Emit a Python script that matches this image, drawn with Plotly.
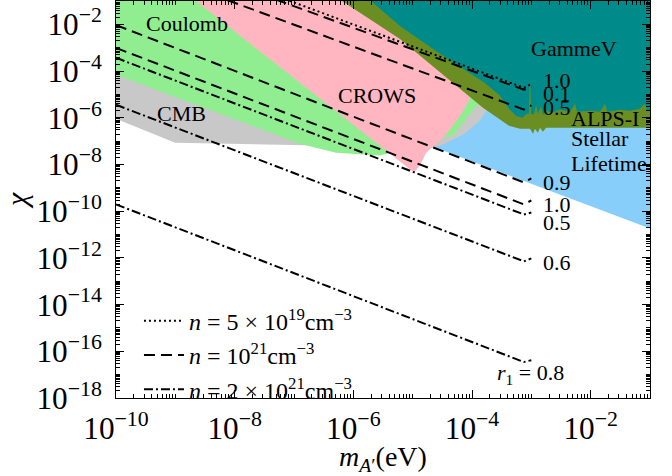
import plotly.graph_objects as go

# ---------------- data ----------------
# dark-photon mass grid for the projected sensitivity curves (eV)
line_m = [1e-10, 7.5e-4, 1e-3]

# sensitivity curves chi(m)
chi_n5e19_r10 = [58.9, 1.91e-5, 2.82e-5]       # dotted, r1 = 1.0
chi_n1e21_r01 = [35.5, 1.58e-5, 2.14e-5]       # dashed, r1 = 0.1
chi_n1e21_r05 = [6.3, 2.24e-6, 3.39e-6]        # dashed, r1 = 0.5
chi_n1e21_r09 = [9.3e-3, 1.70e-9, 2.51e-9]     # dashed, r1 = 0.9
chi_n1e21_r10 = [9.8e-4, 1.95e-10, 2.88e-10]   # dashed, r1 = 1.0
chi_n2e21_r05 = [3.7e-4, 7.2e-11, 8.7e-11]     # dash-dot, r1 = 0.5
chi_n2e21_r06 = [3.6e-6, 7.1e-13, 9.5e-13]     # dash-dot, r1 = 0.6
chi_n2e21_r08 = [1.95e-10, 3.47e-17, 4.17e-17] # dash-dot, r1 = 0.8

# excluded regions (boundary polygons: mass in eV, chi)
stellar_m = [2.2e-5, 0.148, 0.148, 2.96e-4, 9.3e-5, 4.3e-5, 2.47e-5]
stellar_chi = [5.8e-8, 1.23e-11, 5.3e-6, 3.83e-5, 2.0e-6, 2.8e-7, 8.6e-8]

cmb_m = [8e-11, 8e-11, 9.9e-10, 2.2e-5, 3.5e-5, 7.6e-5, 1.36e-4, 2.0e-4, 2.75e-4, 2.96e-4]
cmb_chi = [8.3e-5, 1.15e-6, 8.6e-8, 5.25e-8, 7.8e-8, 2.1e-7, 7.5e-7, 3.3e-6, 1.74e-5, 1.95e-3]

coulomb_m = [8e-11, 2.96e-4, 2.44e-4, 1.53e-4, 1.12e-4, 7.6e-5, 4.8e-5, 2.38e-5,
             6.1e-6, 2.8e-6, 5.1e-7, 1.26e-7, 8e-11]
coulomb_chi = [0.3, 0.3, 2.34e-5, 5.3e-6, 2.7e-6, 7.5e-7, 1.71e-7, 1.27e-7,
               3.9e-8, 2.4e-8, 3.2e-8, 7.8e-8, 8.6e-5]

crows_m = [1.29e-9, 1.05e-5, 1.33e-5, 1.68e-5, 2.2e-5, 3.8e-5, 6.3e-5, 9.3e-5, 1.36e-4, 9.3e-5]
crows_chi = [0.3, 4.5e-9, 8.95e-9, 3.2e-8, 5.8e-8, 2.1e-7, 1.22e-6, 6.5e-6, 2.7e-4, 0.3]

alps_m = [3.33e-7, 6.1e-6, 4.3e-5, 1.53e-4, 4.2e-4, 6.44e-4, 9.5e-4, 1.07e-3, 1.15e-3,
          1.29e-3, 1.40e-3, 1.57e-3, 1.77e-3, 0.148, 0.148]
alps_chi = [0.3, 2.38e-3, 3.8e-5, 2.7e-6, 4.6e-7, 3.4e-7, 3.4e-7, 2.08e-7, 3.4e-7,
            2.3e-7, 3.76e-7, 2.54e-7, 3.76e-7, 3.76e-7, 0.3]

gammev_m = [1.2e-6, 6.1e-6, 2.47e-5, 1.72e-4, 2.96e-4, 4.2e-4, 5.5e-4, 7.0e-4, 8.45e-4,
            9.14e-4, 9.35e-4, 9.66e-4, 9.89e-4, 1.11e-3, 1.20e-3, 1.29e-3, 1.46e-3,
            1.57e-3, 1.84e-3, 2.23e-3, 3.04e-3, 4.49e-3, 5.45e-3, 5.89e-3, 9.75e-3,
            1.44e-2, 1.75e-2, 1.89e-2, 3.13e-2, 4.6e-2, 6.79e-2, 8.24e-2, 8.89e-2,
            0.148, 0.148]
gammev_chi = [0.3, 8.55e-3, 7.3e-4, 2.84e-5, 8.7e-6, 2.44e-6, 1.22e-6, 1.0e-6, 1.49e-6,
              1.49e-6, 2.34e-5, 2.34e-5, 1.49e-6, 1.35e-6, 3.61e-6, 1.49e-6, 2.96e-6,
              1.35e-6, 2.0e-6, 1.64e-6, 2.21e-6, 1.81e-6, 3.98e-6, 1.81e-6, 2.0e-6,
              1.81e-6, 3.98e-6, 1.81e-6, 2.21e-6, 2.0e-6, 2.44e-6, 3.98e-6, 2.0e-6,
              2.0e-6, 0.3]

legend_names = [
    "<i>n</i> = 5 × 10<sup>19</sup>cm<sup>−3</sup>",
    "<i>n</i> = 10<sup>21</sup>cm<sup>−3</sup>",
    "<i>n</i> = 2 × 10<sup>21</sup>cm<sup>−3</sup>",
]

# ---------------- figure ----------------
FONT = "Liberation Serif"
fig = go.Figure()

regions = [
    (stellar_m, stellar_chi, "#87CEFA"),
    (cmb_m, cmb_chi, "#C8C8C8"),
    (coulomb_m, coulomb_chi, "#90EE90"),
    (crows_m, crows_chi, "#FFB6C1"),
    (alps_m, alps_chi, "#6B8E23"),
    (gammev_m, gammev_chi, "#008B8B"),
]
for xm, yc, col in regions:
    fig.add_trace(go.Scatter(x=xm, y=yc, mode="lines", fill="toself", fillcolor=col,
                             line=dict(width=0, color=col), showlegend=False,
                             hoverinfo="skip"))

DOT = "2px,3px"
DASH = "11px,6px"
DASHDOT = "9px,3px,2px,3px"

curves = [
    (chi_n5e19_r10, DOT, legend_names[0], True),
    (chi_n1e21_r01, DASH, legend_names[1], True),
    (chi_n1e21_r05, DASH, None, False),
    (chi_n1e21_r09, DASH, None, False),
    (chi_n1e21_r10, DASH, None, False),
    (chi_n2e21_r05, DASHDOT, legend_names[2], True),
    (chi_n2e21_r06, DASHDOT, None, False),
    (chi_n2e21_r08, DASHDOT, None, False),
]
for yc, dash, name, show in curves:
    fig.add_trace(go.Scatter(x=line_m, y=yc, mode="lines", name=name or "",
                             showlegend=show,
                             line=dict(color="black", width=2, dash=dash)))

def ann(text, x, y, size=22, xanchor="center"):
    fig.add_annotation(text=text, x=x, y=y, xref="x", yref="y", showarrow=False,
                       xanchor=xanchor, yanchor="middle",
                       font=dict(family=FONT, size=size, color="black"))

# region labels (positions in log10 units)
ann("Coulomb", -8.80, -1.98)
ann("CMB", -8.89, -5.83)
ann("CROWS", -5.60, -5.06)
ann("GammeV", -2.28, -3.05)
ann("ALPS-I", -2.365, -6.04, xanchor="left")
ann("Stellar", -2.365, -6.90, xanchor="left")
ann("Lifetime", -2.365, -7.96, xanchor="left")
# curve labels
for txt, yy in [("1.0", -4.42), ("0.1", -4.97), ("0.5", -5.57), ("0.9", -8.78),
                ("1.0", -9.71), ("0.5", -10.48), ("0.6", -12.19)]:
    ann(txt, -2.84, yy, xanchor="left")
ann("<i>r</i><sub>1</sub> = 0.8", -2.41, -16.98, xanchor="right")

axis_common = dict(
    type="log", showgrid=False, zeroline=False, showline=True, linecolor="black",
    linewidth=1.2, mirror="allticks", ticks="inside", ticklen=8, tickwidth=1,
    tickcolor="black", dtick=2, exponentformat="power", ticklabeloverflow="allow",
    tickfont=dict(family=FONT, size=25, color="black"),
    minor=dict(ticks="inside", ticklen=4, tickwidth=0.8, tickcolor="black", dtick="D1"),
)

fig.update_xaxes(range=[-10, -1], **axis_common, ticklabelstandoff=4,
                 title=dict(text="<i>m</i><sub><i>A</i>′</sub>(eV)",
                            font=dict(family=FONT, size=28, color="black"), standoff=2))
fig.update_yaxes(range=[-18, -1], **axis_common, ticklabelstandoff=8,
                 title=dict(text="<i>χ</i>", font=dict(family=FONT, size=30, color="black"),
                            standoff=4))

fig.update_layout(
    width=672, height=476,
    margin=dict(l=116, r=22, t=1, b=78),
    paper_bgcolor="white", plot_bgcolor="white",
    legend=dict(x=0.043, y=0.25, xanchor="left", yanchor="top",
                bgcolor="rgba(0,0,0,0)", borderwidth=0,
                font=dict(family=FONT, size=24, color="black"),
                itemwidth=40, tracegroupgap=0),
    showlegend=True,
)

fig.write_html("out.html")
